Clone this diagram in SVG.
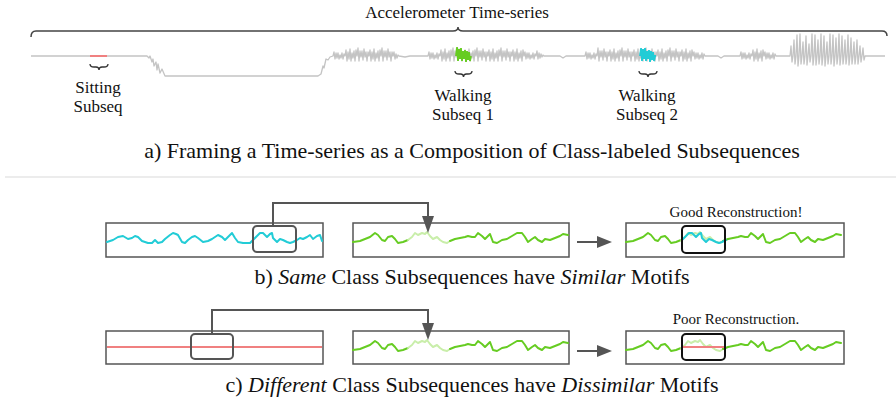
<svg xmlns="http://www.w3.org/2000/svg" width="896" height="402" viewBox="0 0 896 402">
<style>
text{font-family:"Liberation Serif","Times New Roman",serif;fill:#111}
.lbl{font-size:17px;text-anchor:middle}
.cap{font-size:22px;text-anchor:middle}
.note{font-size:15px;text-anchor:middle}
.box{fill:#fff;stroke:#555;stroke-width:1.5}
.hl{fill:none;stroke:#555;stroke-width:2}
.hlk{fill:none;stroke:#111;stroke-width:2}
.brace{fill:none;stroke:#333;stroke-width:1.3}
.ts{fill:none;stroke:#c4c4c4;stroke-width:1.3;stroke-linejoin:round}
.g{fill:none;stroke:#66cc22;stroke-width:2;stroke-linejoin:round;stroke-linecap:round}
.gf{fill:none;stroke:#c9eeaa;stroke-width:2;stroke-linejoin:round;stroke-linecap:round}
.c{fill:none;stroke:#22ccd6;stroke-width:2;stroke-linejoin:round;stroke-linecap:round}
.r{fill:none;stroke:#f08080;stroke-width:2}
.conn{fill:none;stroke:#555;stroke-width:2}
</style>
<defs>
<path id="gA" class="g" d="M353,242 L360,241 L365,239 L370,237 L375,233 L378,235 L382,240 L385,241 L388,237 L392,236 L395,239 L398,243 L403,242 L408,240"/>
<path id="gM" d="M408,240 L412,237 L415,233 L418,235 L422,233 L425,234 L427,232 L430,236 L433,239 L437,237 L440,240 L443,242 L447,243 L450,241"/>
<path id="gB" class="g" d="M450,241 L455,239 L460,238 L465,237 L468,236 L472,237 L475,237 L478,233 L482,236 L485,239 L487,237 L490,234 L493,242 L497,243 L502,240 L507,239 L512,236 L517,233 L522,233 L525,237 L528,242 L532,239 L535,237 L538,240 L542,242 L545,239 L550,240 L555,238 L560,236 L563,234 L568,235"/>
<path id="cSub" class="c" d="M253,240 L257,236 L260,233 L263,233 L267,237 L270,234 L272,233 L273,238 L277,242 L280,239 L283,240 L287,242 L290,243 L293,242 L297,240"/>
</defs>

<g id="timeseries-bracket">
<text x="457" y="18" class="lbl">Accelerometer Time-series</text>
<path class="brace" style="stroke:#444;stroke-width:1.5" d="M31,37 Q31,31 36,31 H453 Q458,31 458,27 Q458,31 463,31 H882 Q887,31 887,36"/>
</g>

<g id="timeseries">
<path class="ts" d="M31,56 H147 L149,58 L150,56 L152,62 L153,59 L154,66 L156,62 L157,70 L158,64 L160,73 L162,69 L165,76 H318 L321,74 L323,66 L324,68 L326,59 L328,60 L330,57 L333,56
l1,-4 l1,7 l1,-6 l1,5 l1,-5 l1,6 l1,-4 l1,3 l1,-5 l1,6 l1,-5 l1,2
l1,-6 l1,11 l1,-9 l1,7 l1,-10 l1,12 l1,-8 l1,5 l1,-7 l1,10 l1,-11 l1,6
l1,-8 l1,13 l1,-10 l1,6 l1,-6 l1,9 l1,-11 l1,8 l1,-5 l1,9 l1,-9 l1,4
l1,-6 l1,11 l1,-9 l1,7 l1,-10 l1,12 l1,-8 l1,5 l1,-7 l1,10 l1,-11 l1,6
l1,-8 l1,13 l1,-10 l1,6 l1,-6 l1,9 l1,-11 l1,8 l1,-5 l1,9 l1,-9 l1,4
l1,-4 l1,7 l1,-5 l1,4 l1,-3 l1,1
L405,57 L410,56 H428
l1,-4 l1,7 l1,-6 l1,5 l1,-5 l1,6 l1,-4 l1,3 l1,-5 l1,6 l1,-5 l1,2
l1,-6 l1,11 l1,-9 l1,7 l1,-10 l1,12 l1,-8 l1,5 l1,-7 l1,10 l1,-11 l1,6
l1,-8 l1,13 l1,-10 l1,6 l1,-6 l1,9 l1,-11 l1,8 l1,-5 l1,9 l1,-9 l1,4
l1,-6 l1,11 l1,-9 l1,7 l1,-10 l1,12 l1,-8 l1,5 l1,-7 l1,10 l1,-11 l1,6
l1,-8 l1,13 l1,-10 l1,6 l1,-6 l1,9 l1,-11 l1,8 l1,-5 l1,9 l1,-9 l1,4
l1,-6 l1,11 l1,-9 l1,7 l1,-10 l1,12 l1,-8 l1,5 l1,-7 l1,10 l1,-11 l1,6
l1,-8 l1,13 l1,-10 l1,6 l1,-6 l1,9 l1,-11 l1,8 l1,-5 l1,9 l1,-9 l1,4
l1,-6 l1,11 l1,-9 l1,7 l1,-10 l1,12 l1,-8 l1,5 l1,-7 l1,10 l1,-11 l1,6
l1,-4 l1,7 l1,-6 l1,5 l1,-5 l1,6 l1,-4 l1,3 l1,-5 l1,6 l1,-5 l1,2
l1,-5 l1,8 l1,-6 l1,5 l1,-4 l1,3 l1,-2 l1,1
L560,56 L563,58 L566,56 H585
l1,-4 l1,7 l1,-6 l1,5 l1,-5 l1,6 l1,-4 l1,3 l1,-5 l1,6 l1,-5 l1,2
l1,-8 l1,13 l1,-10 l1,6 l1,-6 l1,9 l1,-11 l1,8 l1,-5 l1,9 l1,-9 l1,4
l1,-6 l1,11 l1,-9 l1,7 l1,-10 l1,12 l1,-8 l1,5 l1,-7 l1,10 l1,-11 l1,6
l1,-8 l1,13 l1,-10 l1,6 l1,-6 l1,9 l1,-11 l1,8 l1,-5 l1,9 l1,-9 l1,4
l1,-6 l1,11 l1,-9 l1,7 l1,-10 l1,12 l1,-8 l1,5 l1,-7 l1,10 l1,-11 l1,6
l1,-8 l1,13 l1,-10 l1,6 l1,-6 l1,9 l1,-11 l1,8 l1,-5 l1,9 l1,-9 l1,4
l1,-6 l1,11 l1,-9 l1,7 l1,-10 l1,12 l1,-8 l1,5 l1,-7 l1,10 l1,-11 l1,6
l1,-8 l1,13 l1,-10 l1,6 l1,-6 l1,9 l1,-11 l1,8 l1,-5 l1,9 l1,-9 l1,4
l1,-6 l1,11 l1,-9 l1,7 l1,-10 l1,12 l1,-8 l1,5 l1,-7 l1,10 l1,-11 l1,6
l1,-4 l1,7 l1,-6 l1,5 l1,-5 l1,6 l1,-4 l1,3 l1,-5 l1,6 l1,-5 l1,2
L718,56 L721,58 L724,56 H740
l1,-4 l1,7 l1,-6 l1,5 l1,-5 l1,6 l1,-4 l1,3 l1,-5 l1,6 l1,-5 l1,2
l1,-6 l1,11 l1,-9 l1,7 l1,-10 l1,12 l1,-8 l1,5 l1,-7 l1,10 l1,-11 l1,6
l1,-4 l1,7 l1,-6 l1,5 l1,-5 l1,6 l1,-4 l1,3 l1,-5 l1,6 l1,-5 l1,2
H790
l1,-10 l1,16 l1,-6
l1,-16 l1,24 l1,-8
l1,-21 l1,31 l1,-10
l1,-22 l1,30 l1,-8
l1,-14 l1,22 l1,-8
l1,-20 l1,29 l1,-9
l1,-12 l1,18 l1,-6
l1,-22 l1,31 l1,-9
l1,-21 l1,30 l1,-9
l1,-16 l1,24 l1,-8
l1,-22 l1,31 l1,-9
l1,-20 l1,30 l1,-10
l1,-14 l1,22 l1,-8
l1,-22 l1,30 l1,-8
l1,-21 l1,31 l1,-10
l1,-18 l1,26 l1,-8
l1,-22 l1,31 l1,-9
l1,-20 l1,28 l1,-8
l1,-16 l1,24 l1,-8
l1,-21 l1,30 l1,-9
l1,-18 l1,26 l1,-8
l1,-14 l1,22 l1,-8
l1,-16 l1,24 l1,-8
l1,-10 l1,16 l1,-6
l1,-8 l1,12 l1,-4
H885"/>
<path class="r" d="M90,56 H107"/>
<path fill="none" stroke="#66cc22" stroke-width="1.8" d="M456,56 l1,-9 l1,14 l1,-12 l1,10 l1,-11 l1,13 l1,-10 l1,8 l1,-9 l1,12 l1,-11 l1,9 l1,-8 l1,9 l1,-5"/>
<path fill="none" stroke="#22ccd6" stroke-width="1.8" d="M640,56 l1,-8 l1,13 l1,-12 l1,10 l1,-11 l1,13 l1,-10 l1,8 l1,-9 l1,12 l1,-11 l1,9 l1,-8 l1,9 l1,-5 l1,0"/>
</g>

<g id="sitting-label">
<path class="brace" d="M90,64 Q90,67 94,67 H96 Q99,67 99,70 Q99,67 102,67 H104 Q108,67 108,64"/>
<text x="98" y="93" class="lbl">Sitting</text>
<text x="98" y="112" class="lbl">Subseq</text>
</g>
<g id="walking1-label">
<path class="brace" d="M455,71 Q455,74 459,74 H460.5 Q463.5,74 463.5,77 Q463.5,74 466.5,74 H468 Q472,74 472,71"/>
<text x="463" y="101" class="lbl">Walking</text>
<text x="463" y="120" class="lbl">Subseq 1</text>
</g>
<g id="walking2-label">
<path class="brace" d="M639,71 Q639,74 643,74 H645 Q648,74 648,77 Q648,74 651,74 H653 Q657,74 657,71"/>
<text x="647" y="101" class="lbl">Walking</text>
<text x="647" y="120" class="lbl">Subseq 2</text>
</g>

<g id="caption-a">
<text x="472" y="158" class="cap">a) Framing a Time-series as a Composition of Class-labeled Subsequences</text>
</g>
<line x1="5" y1="177" x2="896" y2="177" stroke="#ececec" stroke-width="2"/>

<g id="b-query">
<rect class="box" x="106" y="223" width="217" height="34"/>
<path class="c" d="M107,242 L113,240 L118,237 L123,236 L128,239 L132,238 L135,236 L138,237 L142,241 L145,242 L148,243 L152,243 L155,240 L158,243 L162,242 L165,239 L170,235 L173,233 L176,234 L178,235 L182,242 L185,243 L188,240 L192,237 L195,236 L198,238 L203,242 L208,241 L212,239 L215,237 L218,235 L222,237 L225,240 L228,237 L232,233 L235,238 L238,242 L243,243 L247,243 L250,243 L253,240 L257,236 L260,233 L263,233 L267,237 L270,234 L272,233 L273,238 L277,242 L280,239 L283,240 L287,242 L290,243 L293,242 L297,240 L300,238 L303,239 L307,237 L310,235 L313,239 L317,236 L320,235 L322,241"/>
<rect class="hl" x="253" y="226" width="43" height="26" rx="4"/>
</g>
<g id="b-motif">
<rect class="box" x="353" y="223" width="216" height="34"/>
<use href="#gA"/>
<use href="#gM" class="gf"/>
<use href="#gB"/>
</g>
<g id="b-recon">
<text x="736" y="217" class="note">Good Reconstruction!</text>
<rect class="box" x="626" y="223" width="218" height="34"/>
<use href="#gA" transform="translate(273,0)"/>
<use href="#gM" class="gf" transform="translate(273,0)"/>
<use href="#gB" transform="translate(273,0)"/>
<use href="#cSub" transform="translate(429,0)"/>
<rect class="hlk" x="682" y="226" width="43" height="27" rx="4"/>
</g>
<g id="caption-b">
<text x="472" y="284" class="cap">b) <tspan font-style="italic">Same</tspan> Class Subsequences have <tspan font-style="italic">Similar</tspan> Motifs</text>
</g>

<g id="c-query">
<rect class="box" x="106" y="331" width="217" height="33"/>
<path class="r" d="M107,347 H322"/>
<rect class="hl" x="191" y="334" width="42" height="25" rx="4"/>
</g>
<g id="c-motif">
<rect class="box" x="353" y="331" width="216" height="33"/>
<use href="#gA" transform="translate(0,108)"/>
<use href="#gM" class="gf" transform="translate(0,108)"/>
<use href="#gB" transform="translate(0,108)"/>
</g>
<g id="c-recon">
<text x="736" y="324" class="note">Poor Reconstruction.</text>
<rect class="box" x="626" y="331" width="218" height="33"/>
<use href="#gA" transform="translate(273,108)"/>
<use href="#gM" class="gf" transform="translate(273,108)"/>
<use href="#gB" transform="translate(273,108)"/>
<path class="r" d="M683,347 H724"/>
<rect class="hlk" x="682" y="334" width="43" height="26" rx="4"/>
</g>
<g id="caption-c">
<text x="472" y="392" class="cap">c) <tspan font-style="italic">Different</tspan> Class Subsequences have <tspan font-style="italic">Dissimilar</tspan> Motifs</text>
</g>

<g id="connectors">
<path class="conn" d="M273,226 V203 H428 V218"/>
<polygon points="422,216 434,216 428,233" fill="#555"/>
<path class="conn" d="M212,334 V310 H428 V325"/>
<polygon points="422,323 434,323 428,340" fill="#555"/>
<path class="conn" d="M577,242 H598"/>
<polygon points="597,236 612,242 597,248" fill="#555"/>
<path class="conn" d="M577,351 H598"/>
<polygon points="597,345 612,351 597,357" fill="#555"/>
</g>
</svg>
